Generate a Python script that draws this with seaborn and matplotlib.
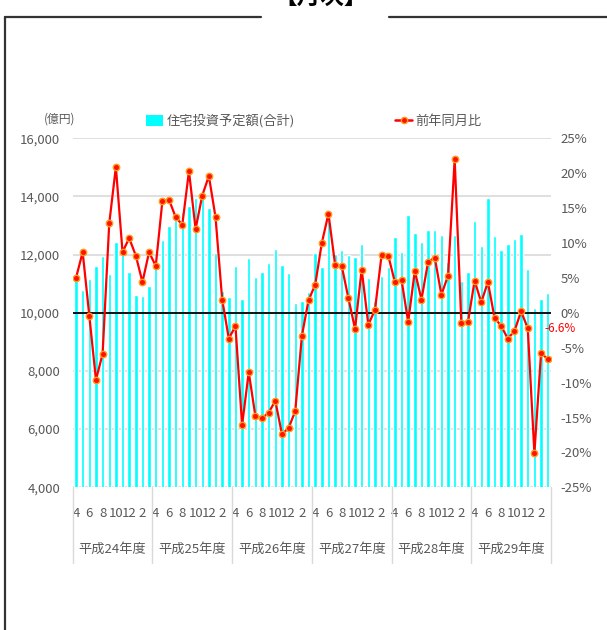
import numpy as np
import pandas as pd
import matplotlib
matplotlib.use('Agg')
import matplotlib.pyplot as plt
import matplotlib.transforms as mtransforms
from matplotlib.lines import Line2D
from matplotlib.patches import Patch
import seaborn as sns

years = ['平成24年度', '平成25年度', '平成26年度', '平成27年度', '平成28年度', '平成29年度']
months = [4, 5, 6, 7, 8, 9, 10, 11, 12, 1, 2, 3]
tick_months = [4, 6, 8, 10, 12, 2]

# 住宅投資予定額(合計) 億円
amount = [
    11130, 10790, 11160, 11620, 11950, 11340, 12440, 12010, 11400, 10610, 10580, 10920,
    11590, 12500, 12990, 13190, 13480, 13670, 13950, 13950, 13600, 12050, 10750, 10560,
    11610, 10480, 11890, 11240, 11400, 11710, 12200, 11650, 11370, 10350, 10410, 10720,
    12050, 11590, 13300, 12020, 12170, 12000, 11930, 12370, 11210, 10410, 11280, 11590,
    12620, 12090, 13360, 12730, 12440, 12850, 12850, 12670, 11740, 12670, 11100, 11400,
    13170, 12280, 13950, 12640, 12160, 12370, 12540, 12710, 11510, 10170, 10480, 10680,
]
# 前年同月比 %
yoy = [
    5.0, 8.7, -0.4, -9.6, -5.9, 12.8, 20.9, 8.7, 10.7, 8.2, 4.4, 8.7,
    6.7, 16.0, 16.2, 13.7, 12.6, 20.3, 12.0, 16.8, 19.6, 13.7, 1.9, -3.7,
    -1.9, -16.1, -8.5, -14.8, -15.1, -14.3, -12.6, -17.4, -16.5, -14.1, -3.3, 1.8,
    4.0, 10.0, 14.2, 6.9, 6.7, 2.1, -2.3, 6.2, -1.7, 0.4, 8.3, 8.2,
    4.4, 4.7, -1.3, 6.0, 1.9, 7.3, 7.9, 2.6, 5.3, 22.0, -1.4, -1.3,
    4.6, 1.5, 4.4, -0.7, -1.9, -3.7, -2.6, 0.2, -2.2, -20.1, -5.8, -6.6,
]
last_label = '-6.6%'
left_ticks = [4000, 6000, 8000, 10000, 12000, 14000, 16000]
right_ticks = [-25, -20, -15, -10, -5, 0, 5, 10, 15, 20, 25]

sns.set_theme(style='white')
plt.rcParams['font.family'] = ['Liberation Sans Narrow', 'Noto Sans CJK JP', 'DejaVu Sans']

W, H = 607, 630
fig = plt.figure(figsize=(W / 100, H / 100), dpi=100)
fig.patch.set_facecolor('white')

left, right, top, bottom = 72.7, 551, 138.3, 487.3
ax = fig.add_axes([left / W, 1 - bottom / H, (right - left) / W, (bottom - top) / H])

n = len(amount)
df = pd.DataFrame({
    'idx': np.arange(n),
    'month': [months[i % 12] for i in range(n)],
    'amount': amount,
    'yoy': yoy,
})

sns.barplot(data=df, x='idx', y='amount', color='#00FFFF', saturation=1,
            width=0.52, ax=ax, zorder=2)
ax.set_ylim(4000, 16000)
ax.set_yticks(left_ticks)
ax.set_yticklabels([f'{v:,}' for v in left_ticks])
ax.grid(axis='y', color='#d9d9d9', lw=1.2, zorder=0)
ax.grid(axis='x', visible=False)
ax.set_axisbelow(True)
ax.set_xlabel('')
ax.set_ylabel('')
txt_color = '#595959'
pos = [i for i in range(n) if df['month'][i] in tick_months]
ax.set_xticks(pos)
ax.set_xticklabels([str(df['month'][i]) for i in pos])
ax.tick_params(axis='x', length=0, pad=14, labelsize=9.5, labelcolor=txt_color)
ax.tick_params(axis='y', length=0, pad=9, labelsize=9.5, labelcolor=txt_color)
for s in ax.spines.values():
    s.set_visible(False)

ax2 = ax.twinx()
ax2.axhline(0, color='black', lw=1.3, zorder=1)
sns.lineplot(data=df, x='idx', y='yoy', ax=ax2, color='#FF0000', lw=1.6, marker='o',
             markersize=4.6, markerfacecolor='#FF1000', markeredgecolor='#FF9A1A',
             markeredgewidth=1.0, zorder=3)
ax2.set_ylim(-25, 25)
ax2.set_yticks(right_ticks)
ax2.set_yticklabels([f'{v}%' for v in right_ticks])
ax2.tick_params(axis='y', length=0, pad=7, labelsize=9.5, labelcolor=txt_color)
ax2.set_ylabel('')
ax2.set_xlabel('')
ax2.grid(False)
for s in ax2.spines.values():
    s.set_visible(False)
ax.set_xlim(-0.5, n - 0.5)
ax2.set_xlim(-0.5, n - 0.5)

ax2.text(n + 0.9, -2.2, last_label, color='red', fontsize=8.5, ha='center', va='center',
         clip_on=False)

trans = mtransforms.blended_transform_factory(ax.transData, ax.transAxes)
for k, yname in enumerate(years):
    ax.text(12 * k + 5.5, -0.177, yname, transform=trans, ha='center', va='center',
            fontsize=9.5, color=txt_color, family=['Noto Sans CJK JP'])
for k in range(len(years) + 1):
    ax.add_line(Line2D([12 * k - 0.5, 12 * k - 0.5], [0, -0.217], transform=trans,
                       color='#d9d9d9', lw=1, clip_on=False))

fig.text(60 / W, 1 - 119 / H, '(億円)', ha='center', va='center', fontsize=8.5,
         color=txt_color, family=['Noto Sans CJK JP'])

handles = [Patch(facecolor='#00FFFF', edgecolor='none'),
           Line2D([0], [0], color='red', lw=1.8, marker='o', markersize=4.5,
                  markerfacecolor='#FF1000', markeredgecolor='#FF9A1A')]
fig.legend(handles, ['住宅投資予定額(合計)', '前年同月比'], loc='center left',
           bbox_to_anchor=(146 / W, 1 - 121 / H), ncol=2, frameon=False,
           handlelength=1.3, handleheight=0.9, handletextpad=0.25,
           columnspacing=7.6, borderpad=0, borderaxespad=0,
           prop={'family': 'Noto Sans CJK JP', 'size': 9.5}, labelcolor=txt_color)

# frame and clipped title (title is cut off by the top edge, as in the source)
fc = '#333333'
fig.add_artist(Line2D([5 / W, 261 / W], [1 - 17 / H, 1 - 17 / H], color=fc, lw=1.6,
                      transform=fig.transFigure))
fig.add_artist(Line2D([389 / W, 1.0], [1 - 17 / H, 1 - 17 / H], color=fc, lw=1.6,
                      transform=fig.transFigure))
fig.add_artist(Line2D([5 / W, 5 / W], [0, 1 - 17 / H], color=fc, lw=1.6,
                      transform=fig.transFigure))
fig.text(321 / W, 1 - 9 / H, '【月次】', ha='center', va='bottom', fontsize=17,
         fontweight='bold', color='black', family=['Noto Sans CJK JP'])

fig.savefig('out.png', dpi=100, facecolor='white')
